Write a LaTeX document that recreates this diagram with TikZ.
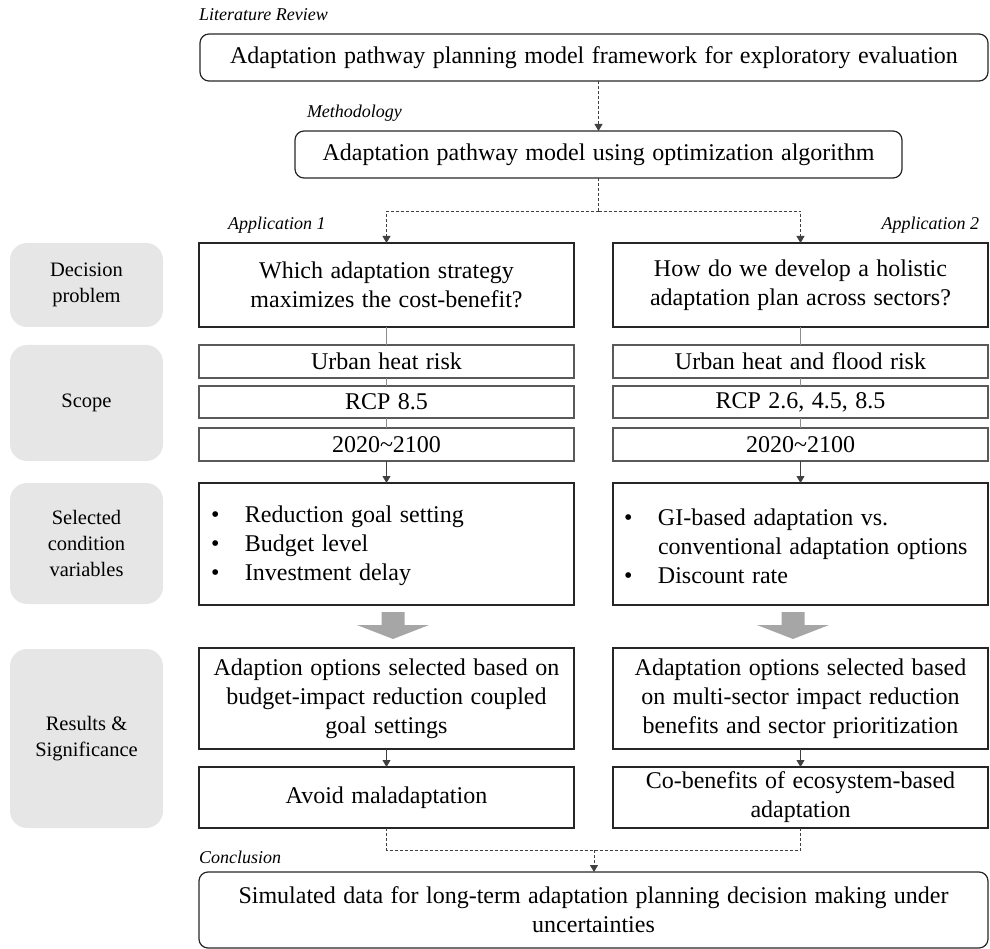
\documentclass[tikz,border=0pt]{standalone}
\usepackage{fontspec}
\setmainfont{Liberation Serif}
\usetikzlibrary{arrows.meta}
\definecolor{boxline}{HTML}{262626}
\definecolor{scopeline}{HTML}{595959}
\definecolor{labelfill}{HTML}{E6E6E6}
\definecolor{bigarrow}{HTML}{A6A6A6}
\definecolor{thinline}{HTML}{8C8C8C}
\definecolor{conn}{HTML}{404040}
\newcommand{\mainfnt}{\fontsize{24}{29}\selectfont\spaceskip=0.31em plus 0.1em minus 0.05em\relax}
\begin{document}
\begin{tikzpicture}[x=1pt,y=-1pt,
  every node/.style={inner sep=0pt,outer sep=0pt},
  main/.style={font=\mainfnt, align=center},
  roundbox/.style={main, draw=boxline, line width=1.2pt, rounded corners=9pt},
  appbox/.style={main, draw=boxline, line width=1.2pt, minimum width=375pt},
  scopebox/.style={main, draw=scopeline, line width=1.2pt, minimum width=375pt},
  sidelabel/.style={fill=labelfill, rounded corners=17pt, minimum width=153pt,
    font=\fontsize{20.5}{26}\selectfont, align=center},
  stagelabel/.style={font=\fontsize{18}{22}\selectfont\itshape},
  dashconn/.style={draw=conn, line width=0.8pt, dash pattern=on 3pt off 2pt},
  tip/.style={-{Triangle[width=8pt,length=7pt]}},
  solidconn/.style={draw=conn, line width=0.8pt},
  scopeconn/.style={draw=thinline, line width=0.8pt}
]
\useasboundingbox (0,0) rectangle (990,949);

% stage labels
\node[stagelabel, anchor=west] (lLit) at (199,15) {Literature Review};
\node[stagelabel, anchor=west] (lMeth) at (307,113) {Methodology};
\node[stagelabel, anchor=west] (lApp1) at (228,225) {Application 1};
\node[stagelabel, anchor=east] (lApp2) at (979,225) {Application 2};
\node[stagelabel, anchor=west] (lConc) at (199,857) {Conclusion};

% top boxes
\node[roundbox, minimum width=788pt, minimum height=47pt] (top) at (594,57.5)
  {Adaptation pathway planning model framework for exploratory evaluation};
\node[roundbox, minimum width=607pt, minimum height=47pt] (meth) at (598.5,154.5)
  {Adaptation pathway model using optimization algorithm};

% side labels
\node[sidelabel, minimum height=84pt] (sDec) at (86.5,285) {Decision\\problem};
\node[sidelabel, minimum height=116pt] (sScope) at (86.5,403) {Scope};
\node[sidelabel, minimum height=121pt] (sVar) at (86.5,543.5) {Selected\\condition\\variables};
\node[sidelabel, minimum height=179pt] (sRes) at (86.5,738.5) {Results \&\\Significance};

% application 1
\node[appbox, minimum height=84pt] (d1) at (386.5,285)
  {Which adaptation strategy\\maximizes the cost-benefit?};
\node[scopebox, minimum height=33pt] (u1) at (386.5,361.5) {Urban heat risk};
\node[scopebox, minimum height=32pt] (r1) at (386.5,402) {RCP 8.5};
\node[scopebox, minimum height=33pt] (y1) at (386.5,444.5) {2020\char"007E 2100};
\node[appbox, minimum height=122pt] (v1) at (386.5,544) {};
\node[main, anchor=west, align=left] (v1t) at (211,546)
  {\makebox[34pt][l]{•}Reduction goal setting\\
   \makebox[34pt][l]{•}Budget level\\
   \makebox[34pt][l]{•}Investment delay};
\node[appbox, minimum height=101pt] (a1) at (386.5,698.5)
  {Adaption options selected based on\\budget-impact reduction coupled\\goal settings};
\node[appbox, minimum height=61pt] (b1) at (386.5,797.5) {Avoid maladaptation};

% application 2
\node[appbox, minimum height=84pt] (d2) at (800.5,285)
  {How do we develop a holistic\\adaptation plan across sectors?};
\node[scopebox, minimum height=33pt] (u2) at (800.5,361.5) {Urban heat and flood risk};
\node[scopebox, minimum height=32pt] (r2) at (800.5,402) {RCP 2.6, 4.5, 8.5};
\node[scopebox, minimum height=33pt] (y2) at (800.5,444.5) {2020\char"007E 2100};
\node[appbox, minimum height=122pt] (v2) at (800.5,544) {};
\node[main, anchor=west, align=left] (v2t) at (624,546)
  {\makebox[34pt][l]{•}GI-based adaptation vs.\\
   \makebox[34pt][l]{}conventional adaptation options\\
   \makebox[34pt][l]{•}Discount rate};
\node[appbox, minimum height=101pt] (a2) at (800.5,698.5)
  {Adaptation options selected based\\on multi-sector impact reduction\\benefits and sector prioritization};
\node[appbox, minimum height=61pt] (b2) at (800.5,797.5)
  {Co-benefits of ecosystem-based\\adaptation};

% conclusion
\node[roundbox, minimum width=789pt, minimum height=76pt] (concl) at (593.5,910)
  {Simulated data for long-term adaptation planning decision making under\\uncertainties};

% dashed connectors
\draw[dashconn, tip] (meth.north |- top.south) -- (meth.north);
\path (meth.south) ++(0,33) coordinate (split);
\draw[dashconn] (meth.south) -- (split);
\draw[dashconn, tip] (split) -| (d1.north);
\draw[dashconn, tip] (split) -| (d2.north);
\path (concl.north) ++(0.5,-22) coordinate (join);
\draw[dashconn] (b1.south) |- (join);
\draw[dashconn] (b2.south) |- (join);
\draw[dashconn, tip] (join) -- (join |- concl.north);

% scope connectors
\draw[scopeconn] (d1.south) -- (u1.north);
\draw[scopeconn] (u1.south) -- (r1.north);
\draw[scopeconn] (r1.south) -- (y1.north);
\draw[scopeconn] (d2.south) -- (u2.north);
\draw[scopeconn] (u2.south) -- (r2.north);
\draw[scopeconn] (r2.south) -- (y2.north);
\draw[solidconn, tip] (y1.south) -- (v1.north);
\draw[solidconn, tip] (y2.south) -- (v2.north);
\draw[solidconn, tip] (a1.south) -- (b1.north);
\draw[solidconn, tip] (a2.south) -- (b2.north);

% big gray arrows
\fill[bigarrow] (381.5,612) -- (404.5,612) -- (404.5,625) -- (429,625) -- (393,639)
  -- (357,625) -- (381.5,625) -- cycle;
\fill[bigarrow] (781.5,612) -- (804.5,612) -- (804.5,625) -- (829,625) -- (793,639)
  -- (757,625) -- (781.5,625) -- cycle;
\end{tikzpicture}
\end{document}
